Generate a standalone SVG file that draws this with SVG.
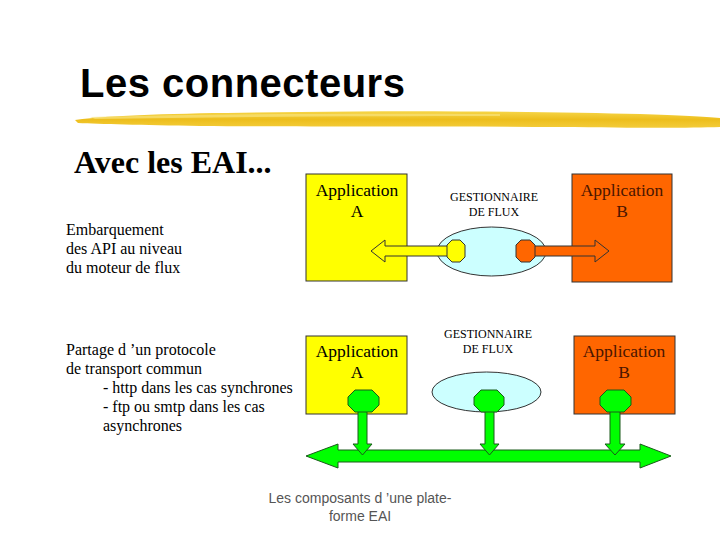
<svg xmlns="http://www.w3.org/2000/svg" width="720" height="540" viewBox="0 0 720 540">
<defs>
<style>
.serif{font-family:"Liberation Serif","Times New Roman",serif;}
.sans{font-family:"Liberation Sans",Arial,sans-serif;}
.app{font-size:17.5px;text-anchor:middle;}
.gest{font-size:12px;text-anchor:middle;fill:#000;}
.left{font-size:16px;fill:#000;}
.ol{stroke:#333;stroke-width:1;stroke-linejoin:miter;}
.green{fill:#00FF00;stroke:#1a5a1a;stroke-width:1;}
</style>
<linearGradient id="brush" x1="0" y1="0" x2="0" y2="1">
<stop offset="0" stop-color="#F6D64A"/>
<stop offset="0.5" stop-color="#EDBE1C"/>
<stop offset="1" stop-color="#F3CC3A"/>
</linearGradient>
</defs>
<rect width="720" height="540" fill="#fff"/>

<!-- title -->
<text x="80" y="97" class="sans" font-size="40" font-weight="bold" letter-spacing="0.5" fill="#000">Les connecteurs</text>
<path d="M75,120 C120,114 200,113 300,112 C420,110 560,112 640,114 C680,115 705,117 720,118 L720,127 C690,128 640,128 560,127 C440,126 300,127 200,126 C140,125 100,124 78,123 Z" fill="url(#brush)"/>
<path d="M90,117 C200,114 350,113 500,114 L500,116 C350,116 200,117 95,119 Z" fill="#F8E27A" opacity="0.7"/>

<text x="74" y="173" class="serif" font-size="32" font-weight="bold" fill="#000">Avec les EAI...</text>

<!-- left texts -->
<g id="txt-embarquement" class="serif left">
<text x="66" y="235">Embarquement</text>
<text x="66" y="254">des API au niveau</text>
<text x="66" y="273">du moteur de flux</text>
</g>
<g id="txt-partage" class="serif left">
<text x="66" y="355">Partage d ’un protocole</text>
<text x="66" y="374">de transport commun</text>
<text x="103" y="393">- http dans les cas synchrones</text>
<text x="103" y="412">- ftp ou smtp dans les cas</text>
<text x="103" y="431">asynchrones</text>
</g>

<!-- top diagram nodes -->
<g id="app-a-top">
<rect x="306" y="174" width="101" height="107" fill="#FFFF00" class="ol"/>
<text x="357" y="196" class="serif app" fill="#000">Application</text>
<text x="357" y="217" class="serif app" fill="#000">A</text>
</g>
<g id="app-b-top">
<rect x="572" y="174" width="100" height="108" fill="#FF6600" class="ol"/>
<text x="622" y="196" class="serif app" fill="#4a1500">Application</text>
<text x="622" y="217" class="serif app" fill="#4a1500">B</text>
</g>
<g id="gest-top">
<ellipse cx="491.5" cy="251.5" rx="54.5" ry="24.5" fill="#CCFFFF" class="ol"/>
<text x="494" y="201" class="serif gest">GESTIONNAIRE</text>
<text x="494" y="216" class="serif gest">DE FLUX</text>
</g>

<!-- bottom diagram nodes -->
<g id="app-a-bottom">
<rect x="306" y="336" width="101" height="78" fill="#FFFF00" class="ol"/>
<text x="357" y="357" class="serif app" fill="#000">Application</text>
<text x="357" y="378" class="serif app" fill="#000">A</text>
</g>
<g id="app-b-bottom">
<rect x="574" y="336" width="101" height="78" fill="#FF6600" class="ol"/>
<text x="624" y="357" class="serif app" fill="#4a1500">Application</text>
<text x="624" y="378" class="serif app" fill="#4a1500">B</text>
</g>
<g id="gest-bottom">
<ellipse cx="486.5" cy="392" rx="54.5" ry="20" fill="#CCFFFF" class="ol"/>
<text x="488" y="338" class="serif gest">GESTIONNAIRE</text>
<text x="488" y="353" class="serif gest">DE FLUX</text>
</g>

<!-- connectors -->
<g id="connectors">
<polygon points="371,251 385,240 385,246 449,246 449,256 385,256 385,262" fill="#FFFF00" class="ol"/>
<polygon points="533,246 595,246 595,240 609,251 595,262 595,256 533,256" fill="#FF6600" class="ol"/>
<path d="M452,240 H460 L465,245 V257 L460,262 H452 L447,257 V245 Z" fill="#FFFF00" class="ol"/>
<path d="M521,240 H530 L535,245 V257 L530,262 H521 L516,257 V245 Z" fill="#FF6600" class="ol"/>

<polygon points="306,456 338,444 338,450 640,450 640,444 671,456 640,468 640,462 338,462 338,468" class="green"/>
<polygon points="358,408 367,408 367,444 372,444 362.5,455 353,444 358,444" class="green"/>
<polygon points="485,408 494,408 494,444 499,444 489.5,455 480,444 485,444" class="green"/>
<polygon points="610,408 620,408 620,444 625,444 615,455 605,444 610,444" class="green"/>
<path d="M355,390 H372 L379,397 V405 L372,412 H355 L348,405 V397 Z" class="green"/>
<path d="M481,390 H497 L504,397 V405 L497,412 H481 L474,405 V397 Z" class="green"/>
<path d="M607,390 H624 L631,397 V405 L624,412 H607 L600,405 V397 Z" class="green"/>
</g>

<!-- caption -->
<text x="360" y="503" class="sans" font-size="14" fill="#555" text-anchor="middle">Les composants d ’une plate-</text>
<text x="360" y="521" class="sans" font-size="14" fill="#555" text-anchor="middle">forme EAI</text>
</svg>
